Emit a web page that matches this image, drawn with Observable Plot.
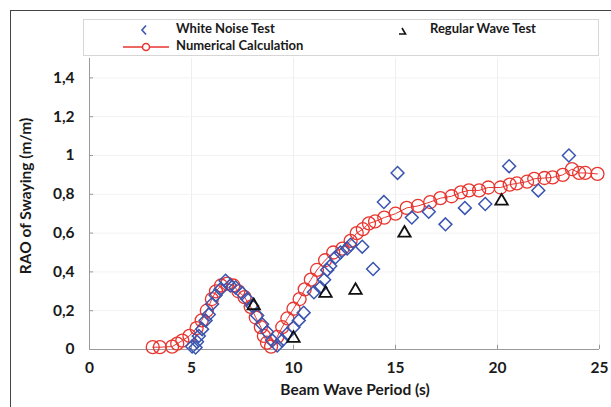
<!DOCTYPE html>
<html><head><meta charset="utf-8">
<script src="https://cdn.jsdelivr.net/npm/d3@7"></script>
<script src="https://cdn.jsdelivr.net/npm/@observablehq/plot@0.6"></script>
<style>
body{margin:0;background:#fff;}
#wrap{position:relative;width:611px;height:407px;overflow:hidden;font-family:Lato,sans-serif;font-weight:bold;color:#1a1a1a;background:#fff;}
#frame{position:absolute;left:10px;top:10px;width:700px;height:500px;border-top:1.5px solid #444;border-left:1.5px solid #444;}
#chart{position:absolute;left:0;top:0;}
#legend{position:absolute;left:83px;top:19px;width:514px;height:35px;border:1px solid #d6d6d6;background:#fff;font-size:13px;}
.lt{position:absolute;white-space:nowrap;line-height:1;}
.lm{position:absolute;}
#xlabel{position:absolute;left:355px;top:380px;transform:translateX(-50%);font-size:15.5px;white-space:nowrap;}
#ylabel{position:absolute;left:25px;top:196px;transform:translate(-50%,-50%) rotate(-90deg);font-size:15.5px;white-space:nowrap;}
</style></head><body>
<div id="wrap">
  <div id="frame"></div>
  <div id="chart"></div>
  <div id="legend">
    <svg class="lm" style="left:54px;top:3px" width="14" height="14"><path d="M8,2.5 L4,7 L8,11.5" fill="none" stroke="#3a55b0" stroke-width="1.6"/></svg>
    <div class="lt" style="left:92px;top:2px">White Noise Test</div>
    <svg class="lm" style="left:312px;top:3px" width="14" height="14"><path d="M6,5 L9.5,11 L3,11" fill="none" stroke="#111" stroke-width="1.6"/></svg>
    <div class="lt" style="left:346px;top:2px">Regular Wave Test</div>
    <svg class="lm" style="left:38px;top:20px" width="48" height="14"><line x1="1" y1="7" x2="47" y2="7" stroke="#e8352f" stroke-width="1.5"/><circle cx="24" cy="7" r="3.5" fill="#fff" stroke="#e8352f" stroke-width="1.5"/></svg>
    <div class="lt" style="left:92px;top:19px">Numerical Calculation</div>
  </div>
  <div id="xlabel">Beam Wave Period (s)</div>
  <div id="ylabel">RAO of Swaying (m/m)</div>
</div>
<script>
// Tick values
const xTicks = [0, 5, 10, 15, 20, 25];
const yTicks = [0, 0.2, 0.4, 0.6, 0.8, 1.0, 1.2, 1.4];

// Numerical Calculation (period s, RAO m/m)
const numPeriod = [3.1,3.45,4.05,4.3,4.55,4.9,5.25,5.5,5.75,6.0,6.2,6.45,6.75,7.05,7.3,7.6,7.9,8.15,8.4,8.55,8.7,8.9,9.2,9.45,9.7,10.0,10.3,10.55,10.85,11.15,11.55,11.95,12.4,12.8,13.1,13.4,13.7,14.0,14.45,15.0,15.55,16.1,16.7,17.2,17.75,18.2,18.6,19.1,19.55,20.15,20.6,20.95,21.45,21.8,22.3,22.7,23.2,23.65,24.0,24.3,24.9];
const numRAO =    [0.012,0.012,0.015,0.03,0.046,0.07,0.11,0.15,0.2,0.26,0.3,0.33,0.34,0.33,0.3,0.27,0.22,0.165,0.115,0.07,0.035,0.015,0.065,0.115,0.16,0.21,0.26,0.31,0.36,0.41,0.46,0.5,0.52,0.56,0.6,0.62,0.65,0.66,0.68,0.7,0.73,0.74,0.76,0.78,0.79,0.81,0.82,0.82,0.835,0.835,0.85,0.856,0.865,0.88,0.884,0.887,0.9,0.93,0.91,0.91,0.905];

// White Noise Test
const wnPeriod = [5.03,5.2,5.27,5.36,5.52,5.69,5.85,6.01,6.18,6.42,6.67,6.9,7.16,7.48,7.73,7.97,8.22,8.46,8.71,8.96,9.2,9.44,9.69,10.0,10.26,10.5,11.0,11.32,11.5,11.65,11.8,12.06,12.3,12.63,12.8,13.37,13.9,14.43,15.1,15.8,16.63,17.45,18.4,19.4,20.57,22.0,23.5];
const wnRAO =    [0.015,0.01,0.04,0.07,0.105,0.15,0.18,0.235,0.28,0.31,0.355,0.33,0.32,0.29,0.26,0.226,0.175,0.13,0.09,0.046,0.02,0.046,0.08,0.115,0.15,0.19,0.295,0.32,0.36,0.41,0.43,0.475,0.5,0.52,0.54,0.53,0.415,0.76,0.91,0.68,0.71,0.645,0.73,0.75,0.945,0.82,1.0];

// Regular Wave Test
const rwPeriod = [8.05,10.0,11.57,13.04,15.44,20.2];
const rwRAO =    [0.226,0.058,0.29,0.305,0.6,0.765];

const num = numPeriod.map((x,i)=>({x, y:numRAO[i]}));
const wn = wnPeriod.map((x,i)=>({x, y:wnRAO[i]}));
const rw = rwPeriod.map((x,i)=>({x, y:rwRAO[i]}));

const red = "#e8352f", blue = "#3a55b0", axisCol = "#9a9a9a";
const fmt = d => String(+d.toFixed(1)).replace(".", ",");

const chart = Plot.plot({
  width: 611, height: 407,
  marginLeft: 89, marginRight: 12, marginTop: 58, marginBottom: 58,
  style: {fontFamily: "Lato, sans-serif", fontWeight: "bold", fontSize: "15.5px", color: "#1a1a1a", background: "transparent"},
  x: {domain: [0, 25]},
  y: {domain: [0, 1.5]},
  marks: [
    Plot.gridX(xTicks.slice(1), {stroke: "#eeeeee", strokeOpacity: 1}),
    Plot.gridY(yTicks.slice(1), {stroke: "#f2f2f2", strokeOpacity: 1}),
    Plot.ruleX([0], {stroke: axisCol}),
    Plot.ruleY([0], {stroke: axisCol}),
    Plot.ruleX(xTicks, {y1: 0, y2: 0.022, stroke: axisCol}),
    Plot.ruleY(yTicks, {x1: 0, x2: 0.2, stroke: axisCol}),
    Plot.axisX(xTicks, {tickSize: 0, tickPadding: 12, label: null, tickFormat: d => String(d)}),
    Plot.axisY(yTicks, {tickSize: 0, tickPadding: 15, label: null, tickFormat: fmt}),
    Plot.line(num, {x: "x", y: "y", stroke: red, strokeWidth: 1}),
    Plot.dot(num, {x: "x", y: "y", r: 6.5, stroke: red, strokeWidth: 1.3}),
    Plot.dot(wn, {x: "x", y: "y", symbol: "diamond2", r: 5.8, stroke: blue, strokeWidth: 1.5}),
    Plot.dot(rw, {x: "x", y: "y", symbol: "triangle", r: 4.6, stroke: "#111", strokeWidth: 1.8})
  ]
});
document.getElementById("chart").appendChild(chart);
</script>
</body></html>
